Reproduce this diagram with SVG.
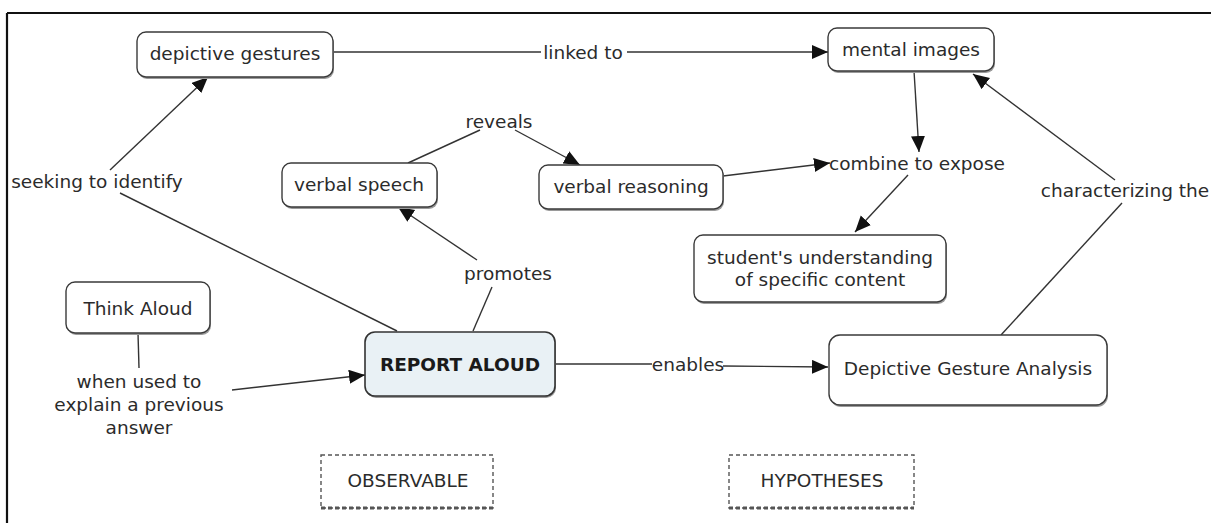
<svg xmlns="http://www.w3.org/2000/svg" width="1216" height="523" viewBox="0 0 1216 523">
<style>
text{font-family:"DejaVu Sans",Verdana,sans-serif;font-size:18.5px;fill:#2b2b2b;text-anchor:middle;dominant-baseline:central}
.node rect.b{fill:#fff;stroke:#3a3a3a;stroke-width:1.4}
.node rect.s{fill:#9a9a9a;stroke:none}
.dash rect{fill:#fff;stroke:#555;stroke-width:1.4;stroke-dasharray:4 3}
.dash line{stroke:#555;stroke-width:3;stroke-dasharray:4 3}
#connectors line{stroke:#333;stroke-width:1.4;fill:none}
.bold{font-weight:bold;fill:#1a1a1a}
</style>
<defs>
<marker id="ah" markerUnits="userSpaceOnUse" markerWidth="17" markerHeight="15" refX="16" refY="7" orient="auto">
<path d="M0,0 L16,7 L0,14 z" fill="#111"/>
</marker>
</defs>
<rect x="0" y="0" width="1216" height="523" fill="#fff"/>
<g id="frame" stroke="#111" stroke-width="2.2" fill="none">
<line x1="7" y1="13" x2="1211" y2="13"/>
<line x1="7" y1="13" x2="7" y2="523"/>
</g>
<g id="connectors">
<line x1="333" y1="52" x2="541" y2="52"/>
<line x1="627" y1="52" x2="828" y2="52" marker-end="url(#ah)"/>
<line x1="397" y1="331" x2="120" y2="193"/>
<line x1="110" y1="170" x2="208" y2="77" marker-end="url(#ah)"/>
<line x1="408" y1="163" x2="480" y2="130"/>
<line x1="515" y1="130" x2="580" y2="165" marker-end="url(#ah)"/>
<line x1="473" y1="331" x2="492" y2="287"/>
<line x1="477" y1="260" x2="398" y2="207" marker-end="url(#ah)"/>
<line x1="723" y1="176" x2="830" y2="163" marker-end="url(#ah)"/>
<line x1="914" y1="71" x2="919" y2="152" marker-end="url(#ah)"/>
<line x1="908" y1="175" x2="855" y2="232" marker-end="url(#ah)"/>
<line x1="1001" y1="335" x2="1122" y2="203"/>
<line x1="1115" y1="180" x2="973" y2="74" marker-end="url(#ah)"/>
<line x1="138" y1="333" x2="139" y2="368"/>
<line x1="232" y1="390" x2="365" y2="375" marker-end="url(#ah)"/>
<line x1="555" y1="364" x2="652" y2="364"/>
<line x1="723" y1="366" x2="828" y2="367" marker-end="url(#ah)"/>
<text x="583" y="52">linked to</text>
<text x="97" y="181">seeking to identify</text>
<text x="499" y="121">reveals</text>
<text x="508" y="273">promotes</text>
<text x="917" y="163">combine to expose</text>
<text x="1125" y="190">characterizing the</text>
<text x="139" y="381">when used to</text>
<text x="139" y="404">explain a previous</text>
<text x="139" y="427">answer</text>
<text x="688" y="364">enables</text>
</g>
<g id="depictive-gestures" class="node">
<rect class="s" x="138" y="34" width="196" height="45" rx="9"/>
<rect class="b" x="137" y="32" width="196" height="45" rx="9"/>
<text x="235" y="53">depictive gestures</text>
</g>
<g id="mental-images" class="node">
<rect class="s" x="829" y="30" width="166" height="43" rx="9"/>
<rect class="b" x="828" y="28" width="166" height="43" rx="9"/>
<text x="911" y="49">mental images</text>
</g>
<g id="verbal-speech" class="node">
<rect class="s" x="283" y="165" width="155" height="44" rx="9"/>
<rect class="b" x="282" y="163" width="155" height="44" rx="9"/>
<text x="359" y="184">verbal speech</text>
</g>
<g id="verbal-reasoning" class="node">
<rect class="s" x="540" y="167" width="184" height="44" rx="9"/>
<rect class="b" x="539" y="165" width="184" height="44" rx="9"/>
<text x="631" y="186">verbal reasoning</text>
</g>
<g id="students-understanding" class="node">
<rect class="s" x="695" y="237" width="252" height="67" rx="9"/>
<rect class="b" x="694" y="235" width="252" height="67" rx="9"/>
<text x="820" y="257">student's understanding</text>
<text x="820" y="279">of specific content</text>
</g>
<g id="think-aloud" class="node">
<rect class="s" x="67" y="284" width="144" height="51" rx="9"/>
<rect class="b" x="66" y="282" width="144" height="51" rx="9"/>
<text x="138" y="308">Think Aloud</text>
</g>
<g id="report-aloud" class="node">
<rect class="s" x="366" y="334" width="190" height="64" rx="10"/>
<rect class="b" x="365" y="332" width="190" height="64" rx="10" style="fill:#e9f1f5;stroke:#333;stroke-width:1.6"/>
<text class="bold" x="460" y="364">REPORT ALOUD</text>
</g>
<g id="depictive-gesture-analysis" class="node">
<rect class="s" x="830" y="337" width="278" height="70" rx="11"/>
<rect class="b" x="829" y="335" width="278" height="70" rx="11"/>
<text x="968" y="368">Depictive Gesture Analysis</text>
</g>
<g id="observable" class="dash">
<rect x="321" y="455" width="172" height="53"/>
<line x1="321" y1="508" x2="493" y2="508"/>
<text x="408" y="480">OBSERVABLE</text>
</g>
<g id="hypotheses" class="dash">
<rect x="729" y="455" width="185" height="53"/>
<line x1="729" y1="508" x2="914" y2="508"/>
<text x="822" y="480">HYPOTHESES</text>
</g>
</svg>
